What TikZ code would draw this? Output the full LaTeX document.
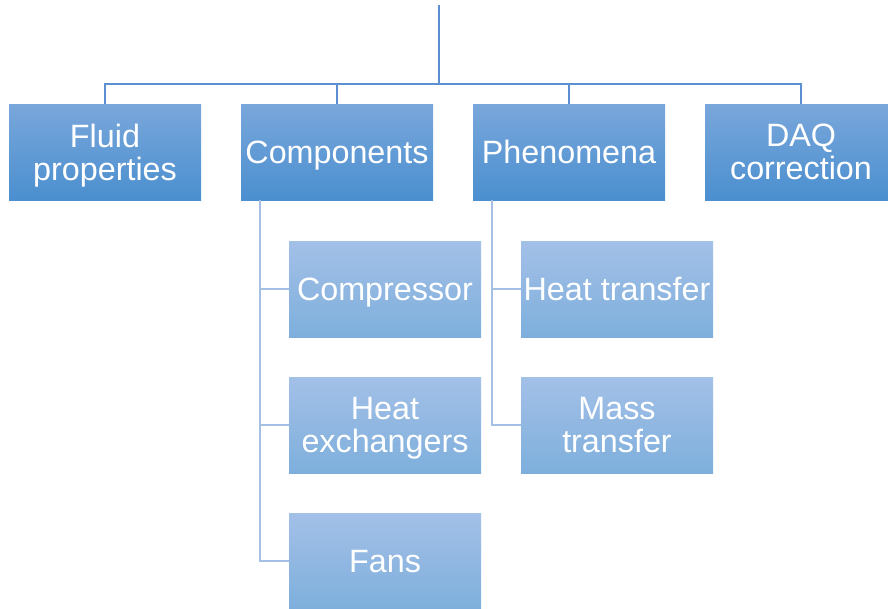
\documentclass[tikz,border=0pt]{standalone}
\usepackage{fontspec}
\setmainfont{Liberation Sans}
\begin{document}
\begin{tikzpicture}[x=1pt,y=-1pt,
  mainbox/.style={rectangle, minimum width=192pt, minimum height=96pt, inner sep=0pt,
    align=center, text=white, text depth=0pt, font=\fontsize{32.3}{33}\selectfont,
    top color=mainTop, middle color=mainMid, bottom color=mainBot},
  subbox/.style={mainbox, top color=subTop, middle color=subMid, bottom color=subBot},
  trunk/.style={draw=trunkBlue, line width=1.8pt},
  branch/.style={draw=branchBlue, line width=1.5pt}]
\definecolor{mainTop}{HTML}{7AA7DB}
\definecolor{mainMid}{HTML}{4C9AD8}
\definecolor{mainBot}{HTML}{4A8FCF}
\definecolor{subTop}{HTML}{A3C0E7}
\definecolor{subMid}{HTML}{80B5E2}
\definecolor{subBot}{HTML}{7EAFDC}
\definecolor{trunkBlue}{HTML}{5B8FD2}
\definecolor{branchBlue}{HTML}{A6BFE5}
\useasboundingbox (0,0) rectangle (888,608);
\clip (0,0) rectangle (888,608);

% top level categories
\node[mainbox] (fluid) at (105,152) {Fluid\\properties};
\node[mainbox] (comp)  at (337,152) {Components};
\node[mainbox] (phen)  at (569,152) {Phenomena};
\node[mainbox] (daq)   at (801,152) {DAQ\\correction};

% sub items
\node[subbox] (compr) at (385,289) {Compressor};
\node[subbox] (hx)    at (385,425) {Heat\\exchangers};
\node[subbox] (fans)  at (385,561) {Fans};
\node[subbox] (ht)    at (617,289) {Heat transfer};
\node[subbox] (mt)    at (617,425) {Mass\\transfer};

% root connector and bus
\coordinate (root) at (439,5);
\coordinate (hub)  at (439,84);
\draw[trunk] (root) -- (hub);
\draw[trunk] (fluid.north) |- (hub) -| (daq.north);
\draw[trunk] (comp.north) |- (hub);
\draw[trunk] (phen.north) |- (hub);

% branches to sub items
\draw[branch] ([xshift=19pt]comp.south west) |- (compr.west);
\draw[branch] ([xshift=19pt]comp.south west) |- (hx.west);
\draw[branch] ([xshift=19pt]comp.south west) |- (fans.west);
\draw[branch] ([xshift=19pt]phen.south west) |- (ht.west);
\draw[branch] ([xshift=19pt]phen.south west) |- (mt.west);
\end{tikzpicture}
\end{document}
